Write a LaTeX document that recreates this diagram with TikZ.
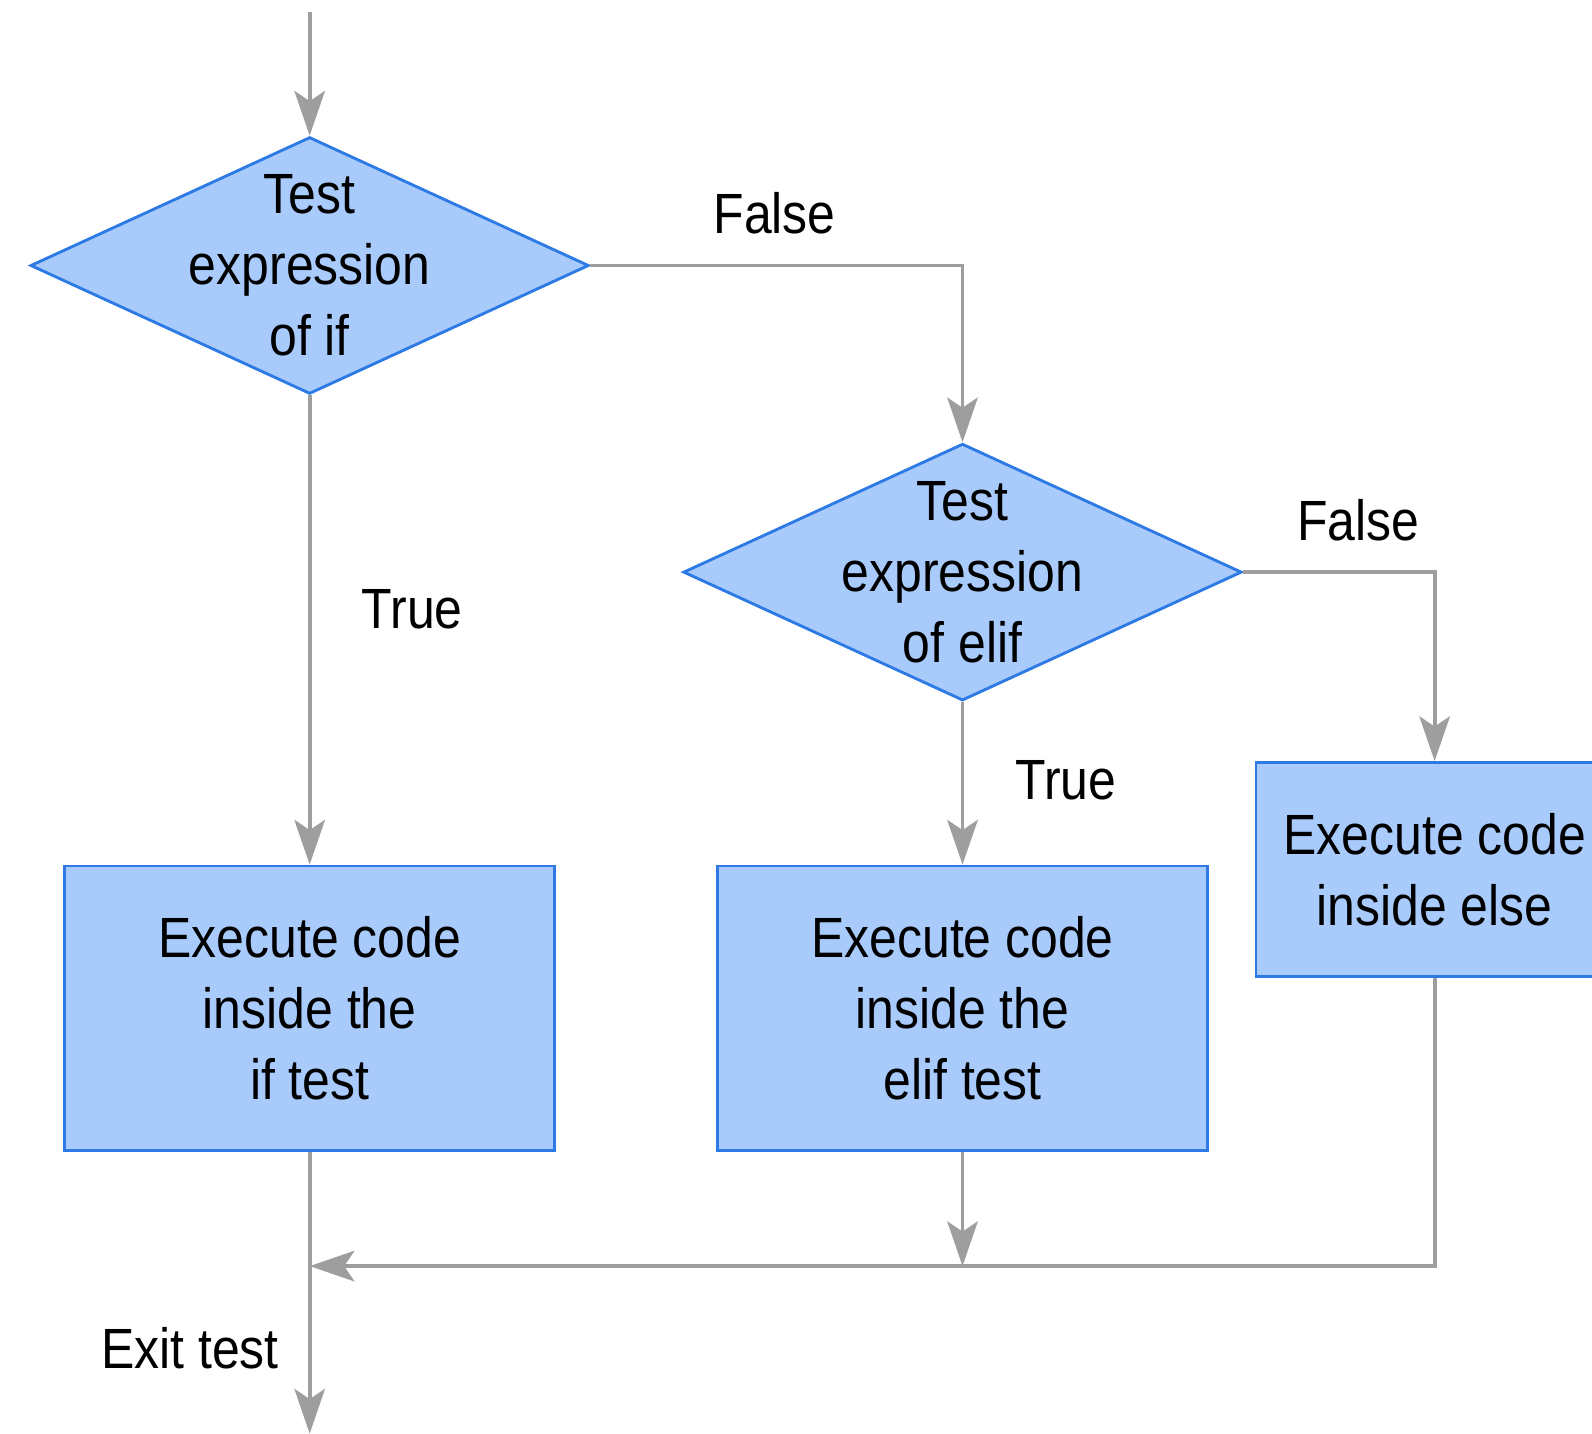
\documentclass[tikz,border=0pt]{standalone}
\usepackage{fontspec}
\setmainfont[FakeStretch=0.88]{Liberation Sans}
\usetikzlibrary{shapes.geometric,arrows.meta}

\definecolor{boxfill}{RGB}{168,203,252}
\definecolor{boxline}{RGB}{45,122,228}
\definecolor{flowgray}{RGB}{158,158,158}

\begin{document}
\begin{tikzpicture}[
	font=\fontsize{15.9}{19.9}\selectfont,
	decision/.style={shape=diamond,draw=boxline,fill=boxfill,line width=0.8pt,inner sep=0pt,minimum width=5.5cm,minimum height=2.53cm},
	process/.style={shape=rectangle,draw=boxline,fill=boxfill,line width=0.8pt,align=center,minimum width=4.83cm,minimum height=2.8cm},
	cond/.style={align=center},
	flow/.style={draw=flowgray,line width=1.1pt,-{Stealth[length=4.4mm,width=3mm,inset=1mm]}}
]
	\useasboundingbox (0,0) rectangle (15.68,-14.12);
	\clip (0,0) rectangle (15.68,-14.12);

	\coordinate (start)  at (3.05,-0.12);
	\coordinate (join)   at (3.05,-12.47);
	\coordinate (merge)  at (9.48,-12.47);
	\coordinate (finish) at (3.05,-14.12);

	% the two tests
	\node[decision] (iftest)   at (3.05,-2.615) {};
	\node[cond]     (iftext)   at (iftest)      {Test\\expression\\of if};
	\node[decision] (eliftest) at (9.48,-5.635) {};
	\node[cond]     (eliftext) at (eliftest)    {Test\\expression\\of elif};

	% the three bodies
	\node[process] (ifbody)   at (3.05,-9.93)  {Execute code\\inside the\\if test};
	\node[process] (elifbody) at (9.48,-9.93)  {Execute code\\inside the\\elif test};
	\node[process,minimum width=3.52cm,minimum height=2.11cm] (elsebody) at (14.13,-8.565) {Execute code\\inside else};

	% branch labels
	\node (false1)    at (7.63,-2.10)  {False};
	\node (true1)     at (4.06,-6.00)  {True};
	\node (false2)    at (13.38,-5.12) {False};
	\node (true2)     at (10.50,-7.68) {True};
	\node (exitlabel) at (1.87,-13.28) {Exit test};

	\draw[flow] (start) -- (iftest.north);
	\draw[flow] (iftest.south) -- (ifbody.north);
	\draw[flow] (iftest.east) -| (eliftest.north);
	\draw[flow] (eliftest.south) -- (elifbody.north);
	\draw[flow] (eliftest.east) -| (elsebody.north);
	\draw[flow] (elifbody.south) -- (merge);
	\draw[flow] (elsebody.south) |- (join);
	\draw[flow] (ifbody.south) -- (finish);

\end{tikzpicture}
\end{document}
